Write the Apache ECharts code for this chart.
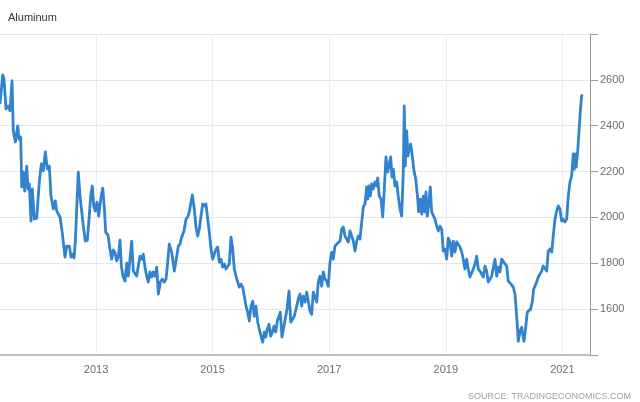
<!DOCTYPE html>
<html>
<head>
<meta charset="utf-8">
<script src="https://cdn.jsdelivr.net/npm/echarts@6/dist/echarts.min.js"></script>
<style>
html,body{margin:0;padding:0;background:#fff;}
#c{width:640px;height:402px;}
</style>
</head>
<body>
<div id="c"></div>
<script>
// Dates as decimal years
var years = [
2011.353,2011.400,2011.422,2011.456,2011.491,2011.525,2011.559,2011.581,2011.616,2011.657,
2011.679,2011.708,2011.726,2011.753,2011.777,2011.811,2011.834,2011.856,2011.885,2011.907,
2011.942,2011.983,2012.027,2012.062,2012.096,2012.130,2012.165,2012.199,2012.228,2012.268,
2012.302,2012.326,2012.360,2012.383,2012.417,2012.439,2012.468,2012.497,2012.542,2012.571,
2012.600,2012.623,2012.645,2012.669,2012.696,2012.726,2012.760,2012.782,2012.816,2012.851,
2012.880,2012.909,2012.937,2012.961,2012.988,2013.017,2013.046,2013.081,2013.115,2013.142,
2013.166,2013.206,2013.240,2013.269,2013.297,2013.326,2013.355,2013.383,2013.412,2013.434,
2013.463,2013.497,2013.527,2013.554,2013.583,2013.612,2013.640,2013.669,2013.698,2013.726,
2013.755,2013.784,2013.811,2013.840,2013.870,2013.897,2013.926,2013.955,2013.983,2014.012,
2014.041,2014.069,2014.103,2014.137,2014.172,2014.201,2014.230,2014.257,2014.298,2014.343,
2014.377,2014.412,2014.441,2014.470,2014.509,2014.544,2014.573,2014.600,2014.630,2014.652,
2014.686,2014.715,2014.744,2014.772,2014.801,2014.830,2014.858,2014.887,2014.916,2014.943,
2014.973,2015.002,2015.029,2015.058,2015.088,2015.115,2015.144,2015.173,2015.201,2015.230,
2015.259,2015.286,2015.316,2015.345,2015.372,2015.401,2015.431,2015.458,2015.487,2015.516,
2015.544,2015.573,2015.602,2015.630,2015.659,2015.688,2015.715,2015.744,2015.774,2015.801,
2015.830,2015.859,2015.887,2015.911,2015.938,2015.967,2015.997,2016.024,2016.053,2016.082,
2016.110,2016.139,2016.161,2016.190,2016.220,2016.247,2016.276,2016.311,2016.340,2016.374,
2016.401,2016.443,2016.470,2016.499,2016.528,2016.556,2016.585,2016.614,2016.642,2016.671,
2016.700,2016.727,2016.757,2016.786,2016.813,2016.842,2016.871,2016.899,2016.928,2016.957,
2016.985,2017.014,2017.043,2017.070,2017.100,2017.129,2017.156,2017.185,2017.215,2017.242,
2017.271,2017.300,2017.328,2017.357,2017.386,2017.413,2017.443,2017.472,2017.499,2017.528,
2017.558,2017.585,2017.614,2017.643,2017.660,2017.683,2017.705,2017.729,2017.756,2017.786,
2017.815,2017.832,2017.859,2017.889,2017.918,2017.945,2017.974,2018.004,2018.031,2018.055,
2018.077,2018.100,2018.129,2018.158,2018.185,2018.215,2018.244,2018.271,2018.288,2018.305,
2018.329,2018.352,2018.369,2018.398,2018.425,2018.455,2018.484,2018.511,2018.535,2018.563,
2018.587,2018.614,2018.638,2018.660,2018.683,2018.712,2018.734,2018.758,2018.786,2018.815,
2018.844,2018.872,2018.901,2018.930,2018.957,2018.986,2019.016,2019.043,2019.072,2019.101,
2019.129,2019.158,2019.187,2019.215,2019.244,2019.273,2019.300,2019.329,2019.359,2019.386,
2019.415,2019.444,2019.472,2019.501,2019.530,2019.558,2019.587,2019.616,2019.643,2019.673,
2019.702,2019.729,2019.758,2019.787,2019.815,2019.844,2019.873,2019.901,2019.930,2019.959,
2019.986,2020.016,2020.045,2020.072,2020.118,2020.158,2020.187,2020.216,2020.244,2020.273,
2020.302,2020.319,2020.341,2020.371,2020.398,2020.427,2020.456,2020.484,2020.508,2020.530,
2020.559,2020.587,2020.616,2020.645,2020.672,2020.702,2020.731,2020.758,2020.788,2020.817,
2020.844,2020.873,2020.902,2020.930,2020.959,2020.988,2021.016,2021.045,2021.074,2021.101,
2021.131,2021.160,2021.187,2021.204,2021.221,2021.238,2021.263,2021.285,2021.307,2021.331,
2021.348
];
var prices = [
2495,2622,2604,2473,2486,2465,2596,2377,2329,2399,
2342,2351,2133,2198,2115,2224,2124,2146,1984,2124,
1993,1997,2155,2233,2203,2286,2212,2224,2093,2037,
2072,2028,2028,2002,1941,1936,1827,1875,1875,1827,
1840,1823,1893,1893,2198,2093,2093,1962,1897,1901,
1993,2093,2137,2050,2028,2067,2006,2080,2128,2045,
1936,1923,1862,1818,1858,1845,1810,1831,1901,1788,
1744,1722,1801,1744,1818,1897,1766,1762,1744,1788,
1831,1818,1840,1783,1744,1718,1762,1740,1762,1744,
1783,1666,1718,1731,1718,1731,1805,1884,1849,1766,
1818,1875,1884,1914,1941,1993,2002,2024,2067,2098,
2037,1958,1919,1949,2006,2059,2050,2059,1993,1936,
1862,1818,1840,1862,1871,1805,1818,1783,1797,1775,
1783,1797,1914,1862,1775,1744,1718,1696,1709,1696,
1657,1613,1587,1548,1613,1635,1569,1613,1543,1513,
1482,1456,1500,1478,1513,1534,1482,1500,1526,1500,
1548,1569,1587,1478,1521,1526,1600,1679,1543,1548,
1569,1613,1644,1666,1613,1657,1631,1674,1666,1591,
1578,1674,1679,1631,1718,1744,1700,1762,1731,1722,
1700,1805,1849,1818,1875,1884,1884,1897,1949,1958,
1919,1914,1893,1941,1919,1897,1853,1897,1919,1906,
1914,2045,2059,2133,2080,2137,2093,2146,2124,2155,
2137,2172,2093,2080,2002,2124,2264,2198,2233,2264,
2176,2211,2137,2155,2093,2037,2006,2198,2486,2224,
2377,2268,2299,2321,2268,2203,2168,2102,2024,2080,
2015,2093,2024,2111,2006,2067,2133,2024,2024,1993,
1962,1941,1962,1949,1853,1862,1818,1910,1893,1831,
1897,1849,1893,1893,1871,1849,1818,1775,1818,1775,
1740,1744,1775,1797,1831,1775,1766,1762,1740,1788,
1766,1718,1731,1744,1744,1818,1744,1783,1762,1818,
1818,1797,1788,1722,1709,1696,1666,1569,1460,1504,
1521,1491,1460,1521,1587,1591,1600,1631,1687,1679,
1718,1740,1753,1766,1788,1788,1766,1853,1862,1849,
1919,1993,2028,2050,2037,1984,1993,1980,1993,2093,
2155,2181,2277,2211,2277,2220,2290,2373,2460,2530,
2535
];
var tickYears = [2013, 2015, 2017, 2019, 2021];
var yTicks = [1600, 1800, 2000, 2200, 2400, 2600];
var axisStartYear = 2011.353;
var axisEndYear = 2021.474;

var seriesData = years.map(function (y, i) { return [y, prices[i]]; });
var FONT = 'Liberation Sans, Arial, sans-serif';

var chart = echarts.init(document.getElementById('c'), null, { renderer: 'canvas' });
chart.setOption({
  animation: false,
  backgroundColor: '#fff',
  textStyle: { fontFamily: FONT },
  title: [
    { text: 'Aluminum', left: 8, top: 12, padding: 0,
      textStyle: { fontSize: 11, fontWeight: 'normal', color: '#333', fontFamily: FONT } },
    { text: 'SOURCE: TRADINGECONOMICS.COM', right: 9, bottom: 1, padding: 0,
      textStyle: { fontSize: 9, fontWeight: 'normal', color: '#a0a0a0', fontFamily: FONT } }
  ],
  grid: { left: 0, right: 50, top: 34, bottom: 47, containLabel: false, outerBoundsMode: 'none' },
  xAxis: {
    type: 'value',
    min: axisStartYear,
    max: axisEndYear,
    axisLine: { show: true, lineStyle: { color: '#c0c0c0', width: 2 } },
    axisTick: { show: false, customValues: tickYears },
    axisLabel: {
      customValues: tickYears,
      color: '#6e6e6e', fontSize: 11, margin: 9, fontFamily: FONT,
      formatter: function (v) { return String(Math.round(v)); }
    },
    splitLine: { show: true, lineStyle: { color: '#e9eef2', width: 1 } }
  },
  yAxis: {
    type: 'value',
    position: 'right',
    min: 1400, max: 2800, interval: 200,
    axisLine: { show: true, lineStyle: { color: '#999', width: 1 } },
    axisTick: { show: true, length: 8, lineStyle: { color: '#999' } },
    axisLabel: {
      color: '#6e6e6e', fontSize: 11, margin: 10, fontFamily: FONT,
      formatter: function (v) { return yTicks.indexOf(v) >= 0 ? String(v) : ''; }
    },
    splitLine: { show: true, lineStyle: { color: '#e6e6e6', width: 1 } }
  },
  series: [{
    type: 'line',
    name: 'Aluminum',
    data: seriesData,
    showSymbol: false,
    symbol: 'none',
    lineStyle: { color: '#3183cf', width: 2.8, join: 'round' },
    itemStyle: { color: '#3183cf' }
  }]
});
</script>
</body>
</html>
